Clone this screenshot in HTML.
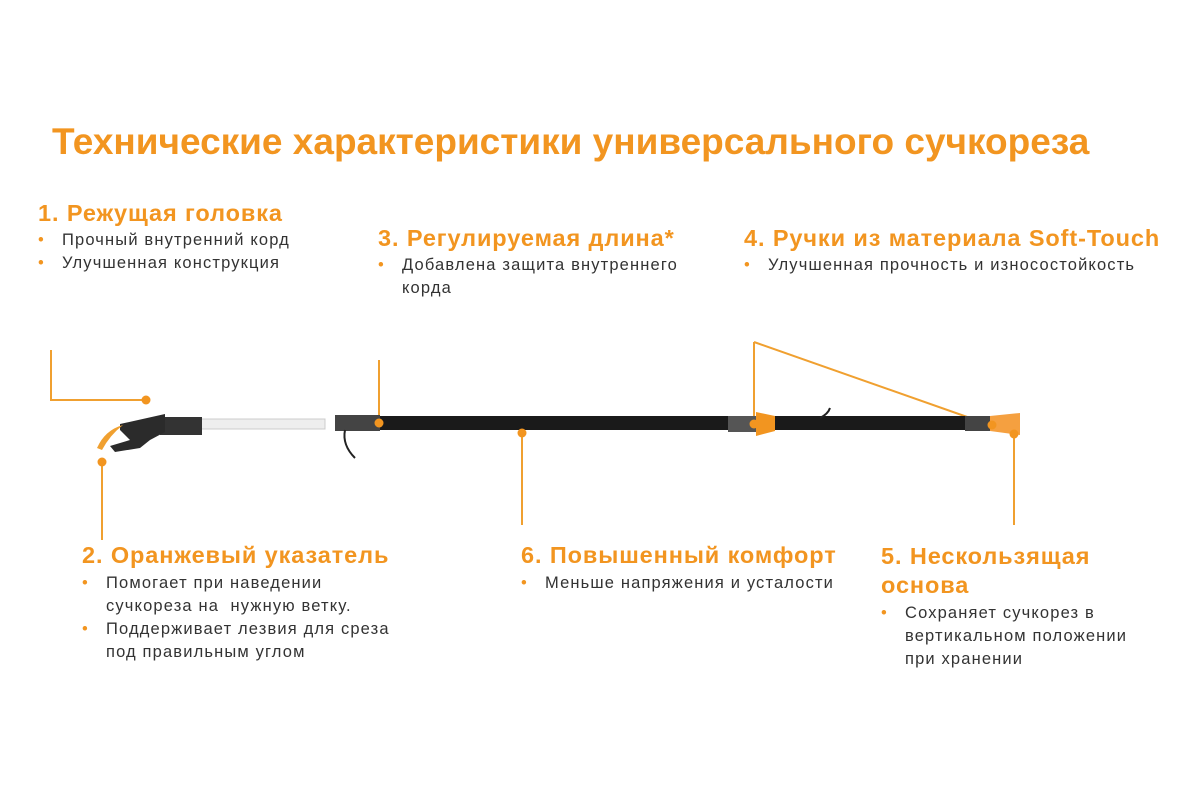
<!DOCTYPE html>
<html><head><meta charset="utf-8"><style>
body{margin:0;width:1200px;height:800px;background:#fff;position:relative;overflow:hidden;font-family:"Liberation Sans",sans-serif}
.t{position:absolute;color:#f29520;font-weight:bold;white-space:nowrap}
.h{font-size:23.5px;letter-spacing:0.9px}
.b{position:absolute;font-size:16.5px;letter-spacing:1.15px;color:#333;line-height:23px;white-space:nowrap}
.b div{position:relative;padding-left:24px}
.b div:before{content:"•";color:#f29520;position:absolute;left:0}
</style></head><body>
<div class="t" style="left:52px;top:121px;font-size:37px;letter-spacing:0px">Технические характеристики универсального сучкореза</div>
<div class="t h" style="left:38px;top:200px">1. Режущая головка</div>
<div class="b" style="left:38px;top:229px"><div>Прочный внутренний корд</div><div>Улучшенная конструкция</div></div>
<div class="t h" style="left:378px;top:225px">3. Регулируемая длина*</div>
<div class="b" style="left:378px;top:254px"><div>Добавлена защита внутреннего<br>корда</div></div>
<div class="t h" style="left:744px;top:225px">4. Ручки из материала Soft-Touch</div>
<div class="b" style="left:744px;top:254px"><div>Улучшенная прочность и износостойкость</div></div>
<div class="t h" style="left:82px;top:542px">2. Оранжевый указатель</div>
<div class="b" style="left:82px;top:572px"><div>Помогает при наведении<br>сучкореза на&nbsp; нужную ветку.</div><div>Поддерживает лезвия для среза<br>под правильным углом</div></div>
<div class="t h" style="left:521px;top:542px">6. Повышенный комфорт</div>
<div class="b" style="left:521px;top:572px"><div>Меньше напряжения и усталости</div></div>
<div class="t h" style="left:881px;top:542px;line-height:29px">5. Нескользящая<br>основа</div>
<div class="b" style="left:881px;top:602px"><div>Сохраняет сучкорез в<br>вертикальном положении<br>при хранении</div></div>
<svg width="1200" height="800" style="position:absolute;left:0;top:0">
<g stroke="#f0a030" stroke-width="2" fill="none">
<polyline points="51,350 51,400 146,400"/>
<line x1="102" y1="462" x2="102" y2="540"/>
<line x1="379" y1="360" x2="379" y2="423"/>
<line x1="522" y1="433" x2="522" y2="525"/>
<line x1="754" y1="342" x2="754" y2="423"/>
<line x1="754" y1="342" x2="990" y2="425"/>
<line x1="1014" y1="434" x2="1014" y2="525"/>
</g>
<rect x="200" y="419" width="125" height="10" fill="#eee" stroke="#ccc"/>
<rect x="335" y="416" width="660" height="14" fill="#1a1a1a"/>
<rect x="335" y="415" width="45" height="16" fill="#444"/>
<rect x="728" y="416" width="30" height="16" fill="#555"/>
<path d="M756,412 L775,416 L775,431 L756,436Z" fill="#f29520"/>
<rect x="965" y="416" width="25" height="15" fill="#444"/>
<path d="M990,416 L1020,413 L1020,435 L990,431Z" fill="#f5a040"/>
<path d="M345,430 Q342,445 355,458" stroke="#222" stroke-width="2" fill="none"/>
<path d="M820,418 Q828,414 830,408" stroke="#222" stroke-width="2" fill="none"/>
<rect x="160" y="417" width="42" height="18" fill="#333"/>
<path d="M120,424 L165,414 L165,432 L150,440 L140,448 L115,452 L110,446 L130,440 L120,430Z" fill="#2b2b2b"/>
<path d="M97,448 Q105,430 123,425 Q110,435 102,450Z" fill="#f0a030"/>
<g fill="#f29520"><circle cx="146" cy="400" r="4.5"/><circle cx="102" cy="462" r="4.5"/><circle cx="379" cy="423" r="4.5"/><circle cx="522" cy="433" r="4.5"/><circle cx="754" cy="424" r="4.5"/><circle cx="992" cy="425" r="4.5"/><circle cx="1014" cy="434" r="4.5"/></g>
</svg>
</body></html>
